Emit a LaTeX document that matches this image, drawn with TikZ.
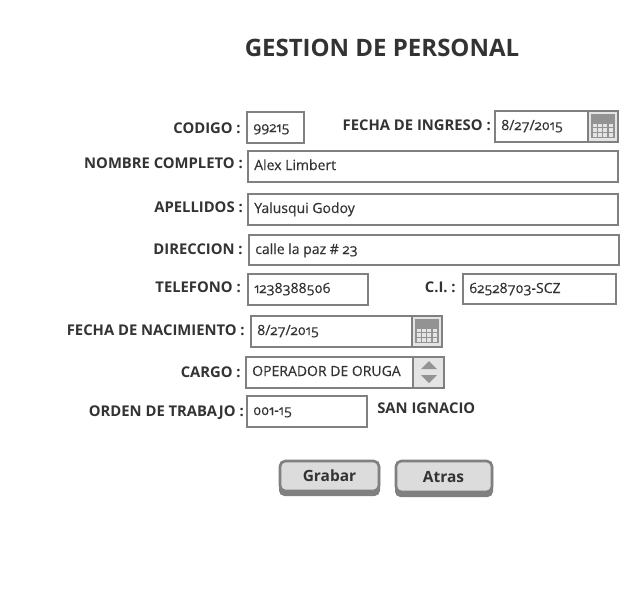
\documentclass[tikz,border=0pt]{standalone}
\usepackage{fontspec}
\setmainfont[Numbers=OldStyle]{Open Sans}
\newfontfamily\valfont[Numbers=OldStyle,FakeBold=0.25]{Open Sans}
\definecolor{framegray}{HTML}{808080}
\definecolor{icongray}{HTML}{E4E4E4}
\definecolor{inkgray}{HTML}{333333}
\definecolor{btngray}{HTML}{DCDCDC}
\tikzset{
  fieldbox/.style={draw=framegray,line width=2pt,fill=white},
  iconbox/.style={draw=framegray,line width=2pt,fill=icongray},
  lbl/.style={anchor=base east,inner sep=0pt,text=inkgray,font=\fontsize{11.1}{12}\selectfont\bfseries},
  val/.style={anchor=base west,inner sep=0pt,text=inkgray,font=\valfont\fontsize{10.5}{12}\selectfont},
  btn/.style={anchor=base,inner sep=0pt,text=inkgray,font=\fontsize{11.6}{12}\selectfont\bfseries},
}
\newcommand{\calicon}[2]{%
\begin{scope}[shift={(#1,#2)}]
\fill[framegray!85] (0,0) rectangle (24,24);
\foreach \i in {0,1,2,3}
  \foreach \j in {0,1,2}
    \fill[icongray] (1.5+\i*5.4,9.5+\j*4.8) rectangle (5.6+\i*5.4,13+\j*4.8);
\end{scope}}
\begin{document}
\begin{tikzpicture}[x=0.75pt,y=-0.75pt]
\useasboundingbox (0,0) rectangle (640,600);
\node[inner sep=0pt,text=inkgray,font=\fontsize{18}{20}\selectfont\bfseries] (titulo) at (382,48) {GESTION DE PERSONAL};
% fila codigo
\node[lbl] (lcodigo) at (241,133) {CODIGO :};
\draw[fieldbox] (247,112) rectangle (304,143);
\node[val] (vcodigo) at (253,132) {99215};
\node[lbl] (lingreso) at (491,130) {FECHA DE INGRESO :};
\draw[fieldbox] (495,111) rectangle (588,142);
\node[val] (vingreso) at (501,130) {8/27/2015};
\draw[iconbox] (588,111) rectangle (618,142);
\calicon{591}{114}
% nombre, apellidos, direccion
\node[lbl] (lnombre) at (243,168) {NOMBRE COMPLETO :};
\draw[fieldbox] (248,151) rectangle (618,182);
\node[val] (vnombre) at (254,170) {Alex Limbert};
\node[lbl] (lapellidos) at (243,212) {APELLIDOS :};
\draw[fieldbox] (248,194) rectangle (618,225);
\node[val] (vapellidos) at (254,213) {Yalusqui Godoy};
\node[lbl] (ldireccion) at (243,254) {DIRECCION :};
\draw[fieldbox] (249,235) rectangle (619,265);
\node[val] (vdireccion) at (255,254) {calle la paz \# 23};
% telefono
\node[lbl] (ltelefono) at (241,292) {TELEFONO :};
\draw[fieldbox] (248,274) rectangle (368,305);
\node[val] (vtelefono) at (254,293) {1238388506};
\node[lbl] (lci) at (456,292) {C.I. :};
\draw[fieldbox] (463,274) rectangle (616,304);
\node[val] (vci) at (469,293) {62528703-SCZ};
% nacimiento
\node[lbl] (lnacimiento) at (245,335) {FECHA DE NACIMIENTO :};
\draw[fieldbox] (251,316) rectangle (412,347);
\node[val] (vnacimiento) at (257,335) {8/27/2015};
\draw[iconbox] (412,316) rectangle (442,347);
\calicon{415}{319}
% cargo
\node[lbl] (lcargo) at (241,377) {CARGO :};
\draw[fieldbox] (246,357) rectangle (413,388);
\node[val] (vcargo) at (252,376) {OPERADOR DE ORUGA};
\draw[iconbox] (413,357) rectangle (444,388);
\fill[framegray!85] (421,369) -- (429,361) -- (437,369) -- cycle;
\fill[framegray!85] (421,375) -- (437,375) -- (429,383) -- cycle;
% orden
\node[lbl] (lorden) at (244,416) {ORDEN DE TRABAJO :};
\draw[fieldbox] (247,396) rectangle (367,427);
\node[val] (vorden) at (253,415) {001-15};
\node[lbl,anchor=base west] (lugar) at (377,413) {SAN IGNACIO};
% botones
\fill[framegray,rounded corners=4pt] (279,461) rectangle (380,496);
\draw[draw=framegray,line width=2pt,fill=btngray,rounded corners=4pt] (280,461) rectangle (379,491);
\node[btn] (grabar) at (329.5,481) {Grabar};
\fill[framegray,rounded corners=4pt] (395,461) rectangle (493,497);
\draw[draw=framegray,line width=2pt,fill=btngray,rounded corners=4pt] (396,461) rectangle (492,492);
\node[btn] (atras) at (443.5,482) {Atras};
\end{tikzpicture}
\end{document}
